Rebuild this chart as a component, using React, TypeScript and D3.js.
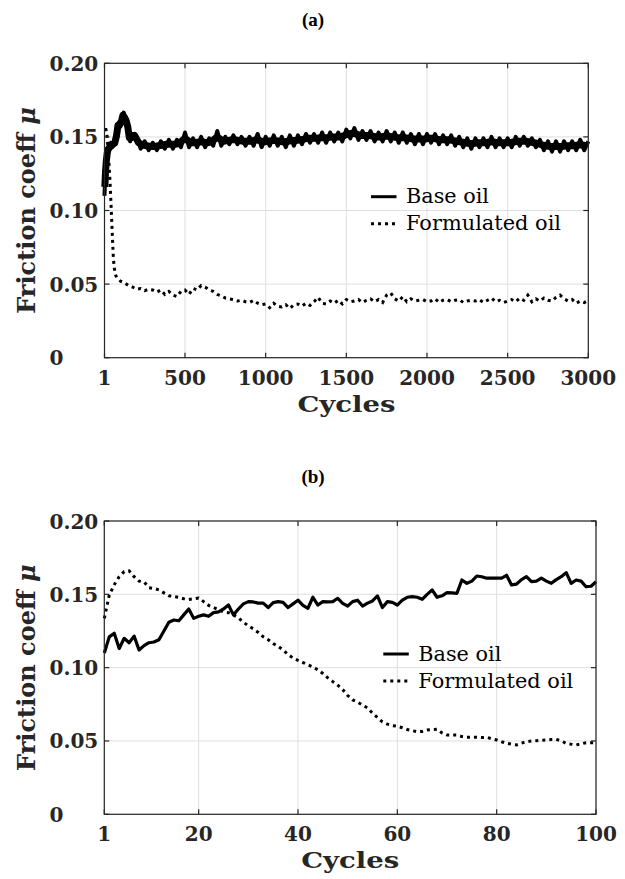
import React from "react";
import * as d3 from "d3";

// ---------- data ----------
const yTickValues = [0, 0.05, 0.1, 0.15, 0.2];
const yTickLabels = ["0", "0.05", "0.10", "0.15", "0.20"];
const xTicksA = [1, 500, 1000, 1500, 2000, 2500, 3000];
const xTicksB = [1, 20, 40, 60, 80, 100];
const seriesNames = ["Base oil", "Formulated oil"];

// Panel (a): early cycles (read individually)
const baseEarlyCyclesA = [1, 5, 10, 15, 20, 25, 30, 40, 50, 60, 70, 80, 90, 100, 110, 120, 130, 140, 150, 160, 175];
const baseEarlyA = [0.110, 0.122, 0.131, 0.137, 0.140, 0.143, 0.141, 0.146, 0.143, 0.147, 0.145, 0.156, 0.160, 0.157, 0.163, 0.1665, 0.160, 0.162, 0.152, 0.147, 0.152];
const formEarlyCyclesA = [1, 10, 15, 20, 25, 30, 35, 40, 45, 50, 55, 60, 70, 80, 100, 125, 150, 175];
const formEarlyA = [0.155, 0.155, 0.153, 0.146, 0.138, 0.130, 0.120, 0.108, 0.095, 0.082, 0.070, 0.062, 0.056, 0.054, 0.052, 0.051, 0.049, 0.048];

// Panel (a): cycles 200..3000 every 25 cycles
const lateStartA = 200;
const lateStepA = 25;
const baseLateA = [
  0.150, 0.142, 0.147, 0.141, 0.146, 0.141, 0.147, 0.142, 0.148, 0.142, 0.148, 0.143, 0.153, 0.143, 0.149, 0.143,
  0.150, 0.143, 0.149, 0.144, 0.154, 0.144, 0.150, 0.145, 0.151, 0.145, 0.150, 0.144, 0.150, 0.144, 0.152, 0.143,
  0.150, 0.144, 0.151, 0.144, 0.150, 0.143, 0.151, 0.144, 0.151, 0.145, 0.152, 0.146, 0.152, 0.146, 0.153, 0.146,
  0.153, 0.147, 0.153, 0.147, 0.155, 0.149, 0.156, 0.148, 0.154, 0.148, 0.154, 0.147, 0.153, 0.147, 0.154, 0.147,
  0.153, 0.146, 0.153, 0.146, 0.152, 0.145, 0.152, 0.145, 0.152, 0.146, 0.152, 0.145, 0.151, 0.145, 0.151, 0.144,
  0.150, 0.143, 0.149, 0.142, 0.149, 0.143, 0.149, 0.143, 0.150, 0.143, 0.149, 0.143, 0.149, 0.143, 0.150, 0.144,
  0.150, 0.144, 0.149, 0.143, 0.148, 0.141, 0.147, 0.140, 0.147, 0.140, 0.147, 0.141, 0.147, 0.141, 0.148, 0.141,
  0.147,
];
const formLateA = [
  0.0465, 0.047, 0.0455, 0.0465, 0.046, 0.0445, 0.046, 0.043, 0.045, 0.0425, 0.0415, 0.045, 0.046, 0.043, 0.047, 0.046,
  0.049, 0.048, 0.046, 0.045, 0.043, 0.042, 0.0405, 0.040, 0.0395, 0.0385, 0.039, 0.038, 0.0375, 0.039, 0.037, 0.036,
  0.0365, 0.034, 0.037, 0.035, 0.0345, 0.036, 0.0335, 0.036, 0.0365, 0.035, 0.037, 0.0355, 0.038, 0.041, 0.037, 0.0365,
  0.0385, 0.037, 0.039, 0.0365, 0.0395, 0.038, 0.0385, 0.0395, 0.0375, 0.039, 0.040, 0.038, 0.0395, 0.0375, 0.0425, 0.044,
  0.040, 0.0385, 0.0415, 0.038, 0.040, 0.0385, 0.039, 0.0395, 0.038, 0.0385, 0.040, 0.0375, 0.039, 0.0395, 0.038, 0.039,
  0.0395, 0.0375, 0.0385, 0.039, 0.0385, 0.0395, 0.0375, 0.039, 0.0405, 0.038, 0.039, 0.0375, 0.0385, 0.0395, 0.038, 0.0405,
  0.039, 0.0425, 0.038, 0.040, 0.0385, 0.0405, 0.039, 0.0385, 0.041, 0.0425, 0.040, 0.0385, 0.0395, 0.037, 0.0385, 0.0375,
  0.039,
];

// Panel (b): one value per cycle, cycles 1..100
const baseB = [
  0.110, 0.121, 0.1235, 0.113, 0.120, 0.117, 0.1215, 0.112, 0.115, 0.117,
  0.1175, 0.119, 0.125, 0.131, 0.1325, 0.132, 0.136, 0.140, 0.1336, 0.135,
  0.136, 0.135, 0.1375, 0.138, 0.140, 0.1427, 0.136, 0.140, 0.1435, 0.145,
  0.1448, 0.144, 0.144, 0.141, 0.1443, 0.145, 0.1445, 0.141, 0.1435, 0.146,
  0.1425, 0.1405, 0.148, 0.1427, 0.145, 0.1448, 0.145, 0.1473, 0.1439, 0.142,
  0.145, 0.146, 0.142, 0.144, 0.1455, 0.1489, 0.141, 0.145, 0.1445, 0.1427,
  0.146, 0.148, 0.1484, 0.148, 0.1466, 0.150, 0.153, 0.148, 0.149, 0.1511,
  0.151, 0.1507, 0.1598, 0.1575, 0.159, 0.1625, 0.162, 0.161, 0.161, 0.161,
  0.161, 0.163, 0.1564, 0.157, 0.160, 0.162, 0.1586, 0.159, 0.161, 0.159,
  0.1575, 0.160, 0.162, 0.1648, 0.1575, 0.1598, 0.159, 0.1552, 0.1555, 0.1586,
];
const formB = [
  0.1336, 0.1495, 0.1565, 0.162, 0.1655, 0.166, 0.162, 0.159, 0.1585, 0.1545,
  0.154, 0.153, 0.151, 0.149, 0.1485, 0.148, 0.147, 0.1465, 0.147, 0.1475,
  0.145, 0.1425, 0.141, 0.1395, 0.138, 0.1375, 0.136, 0.134, 0.131, 0.1285,
  0.1265, 0.124, 0.121, 0.119, 0.1165, 0.1145, 0.112, 0.109, 0.1065, 0.105,
  0.1035, 0.102, 0.1005, 0.0985, 0.096, 0.093, 0.0905, 0.088, 0.085, 0.081,
  0.078, 0.0765, 0.0745, 0.0725, 0.069, 0.066, 0.063, 0.0615, 0.0605, 0.060,
  0.059, 0.0578, 0.057, 0.0563, 0.0565, 0.0575, 0.0578, 0.058, 0.0555, 0.0541,
  0.0541, 0.054, 0.053, 0.0525, 0.0525, 0.0525, 0.0523, 0.0525, 0.0515, 0.0507,
  0.0495, 0.0484, 0.0478, 0.0473, 0.0485, 0.0495, 0.050, 0.0502, 0.0505, 0.0507,
  0.051, 0.0511, 0.050, 0.0484, 0.0478, 0.0473, 0.048, 0.0488, 0.0488, 0.0488,
];

// ---------- helpers ----------
type Pt = [number, number];
const lateCyclesA = baseLateA.map((_, i) => lateStartA + i * lateStepA);
const baseA: Pt[] = [
  ...baseEarlyCyclesA.map((c, i) => [c, baseEarlyA[i]] as Pt),
  ...lateCyclesA.map((c, i) => [c, baseLateA[i]] as Pt),
];
const formA: Pt[] = [
  ...formEarlyCyclesA.map((c, i) => [c, formEarlyA[i]] as Pt),
  ...lateCyclesA.map((c, i) => [c, formLateA[i]] as Pt),
];
const basePtsB: Pt[] = baseB.map((v, i) => [i + 1, v]);
const formPtsB: Pt[] = formB.map((v, i) => [i + 1, v]);

// running mean of neighbouring samples (body of the noisy band)
const pairMean = (pts: Pt[]): Pt[] =>
  pts.slice(1).map((d, i) => [(d[0] + pts[i][0]) / 2, (d[1] + pts[i][1]) / 2] as Pt);

const AX = "#262626";
const GRID = "#dfdfdf";
const TICKFONT = "'DejaVu Serif', serif";
const LEGFONT = "'DejaVu Serif', serif";

interface PanelProps {
  title: string;
  titleY: number;
  left: number;
  right: number;
  top: number;
  bottom: number;
  xDomain: [number, number];
  xTicks: number[];
  base: Pt[];
  form: Pt[];
  baseWidth: number;
  band: boolean;
  legX: number;
  legY: number;
}

function Panel(p: PanelProps) {
  const x = d3.scaleLinear().domain(p.xDomain).range([p.left, p.right]);
  const y = d3.scaleLinear().domain([0, 0.2]).range([p.bottom, p.top]);
  const line = d3
    .line<Pt>()
    .x((d) => x(d[0]))
    .y((d) => y(d[1]));
  const tl = 5;
  return (
    <g>
      <text
        x={313}
        y={p.titleY}
        textAnchor="middle"
        fontFamily="'Liberation Serif', serif"
        fontWeight="bold"
        fontSize={19}
        fill="#000"
      >
        {p.title}
      </text>
      {/* grid */}
      {p.xTicks.map((t) => (
        <line key={"gx" + t} x1={x(t)} x2={x(t)} y1={p.top} y2={p.bottom} stroke={GRID} strokeWidth={1} />
      ))}
      {yTickValues.map((t) => (
        <line key={"gy" + t} x1={p.left} x2={p.right} y1={y(t)} y2={y(t)} stroke={GRID} strokeWidth={1} />
      ))}
      {/* data */}
      {p.band && (
        <path d={line(pairMean(p.base)) || ""} fill="none" stroke="#000" strokeWidth={7} strokeLinejoin="round" />
      )}
      <path d={line(p.base) || ""} fill="none" stroke="#000" strokeWidth={p.baseWidth} strokeLinejoin="round" />
      <path d={line(p.form) || ""} fill="none" stroke="#000" strokeWidth={3} strokeDasharray="3 4" />
      {/* axes box */}
      <rect x={p.left} y={p.top} width={p.right - p.left} height={p.bottom - p.top} fill="none" stroke={AX} strokeWidth={1.2} />
      {p.xTicks.map((t) => (
        <g key={"tx" + t}>
          <line x1={x(t)} x2={x(t)} y1={p.bottom} y2={p.bottom - tl} stroke={AX} strokeWidth={1.2} />
          <line x1={x(t)} x2={x(t)} y1={p.top} y2={p.top + tl} stroke={AX} strokeWidth={1.2} />
          <text
            x={x(t)}
            y={p.bottom + 27}
            textAnchor="middle"
            fontFamily={TICKFONT}
            fontWeight="bold"
            fontSize={20}
            fill={AX}
          >
            {t}
          </text>
        </g>
      ))}
      {yTickValues.map((t, i) => (
        <g key={"ty" + t}>
          <line x1={p.left} x2={p.left + tl} y1={y(t)} y2={y(t)} stroke={AX} strokeWidth={1.2} />
          <line x1={p.right} x2={p.right - tl} y1={y(t)} y2={y(t)} stroke={AX} strokeWidth={1.2} />
          <text
            x={49.5}
            y={y(t) + 7.5}
            textAnchor="start"
            fontFamily={TICKFONT}
            fontWeight="bold"
            fontSize={20}
            fill={AX}
          >
            {yTickLabels[i]}
          </text>
        </g>
      ))}
      {/* axis labels */}
      <text
        x={(p.left + p.right) / 2}
        y={p.bottom + 54}
        textAnchor="middle"
        fontFamily={TICKFONT}
        fontWeight="bold"
        fontSize={23}
        textLength={98}
        lengthAdjust="spacingAndGlyphs"
        fill={AX}
      >
        Cycles
      </text>
      <text
        transform={`translate(35,${(p.top + p.bottom) / 2}) rotate(-90)`}
        textAnchor="middle"
        fontFamily={TICKFONT}
        fontWeight="bold"
        fontSize={24}
        fill={AX}
      >
        Friction coeff <tspan fontStyle="italic">μ</tspan>
      </text>
      {/* legend */}
      <line x1={p.legX} x2={p.legX + 25.5} y1={p.legY} y2={p.legY} stroke="#000" strokeWidth={3} />
      <text
        x={p.legX + 35}
        y={p.legY + 6.7}
        fontFamily={LEGFONT}
        fontSize={20}
        textLength={83}
        lengthAdjust="spacingAndGlyphs"
        fill="#000"
      >
        {seriesNames[0]}
      </text>
      <line
        x1={p.legX}
        x2={p.legX + 25.5}
        y1={p.legY + 27}
        y2={p.legY + 27}
        stroke="#000"
        strokeWidth={3}
        strokeDasharray="3 4"
      />
      <text
        x={p.legX + 35}
        y={p.legY + 33.7}
        fontFamily={LEGFONT}
        fontSize={20}
        textLength={155}
        lengthAdjust="spacingAndGlyphs"
        fill="#000"
      >
        {seriesNames[1]}
      </text>
    </g>
  );
}

export default function App() {
  return (
    <svg width={625} height={879} style={{ position: "absolute", left: 0, top: 0, background: "#fff" }}>
      <rect x={0} y={0} width={625} height={879} fill="#fff" />
      <Panel
        title="(a)"
        titleY={26}
        left={104.5}
        right={588.3}
        top={63.3}
        bottom={357.7}
        xDomain={[1, 3000]}
        xTicks={xTicksA}
        base={baseA}
        form={formA}
        baseWidth={4}
        band={true}
        legX={371}
        legY={196.7}
      />
      <Panel
        title="(b)"
        titleY={483}
        left={104.3}
        right={596}
        top={521}
        bottom={814.3}
        xDomain={[1, 100]}
        xTicks={xTicksB}
        base={basePtsB}
        form={formPtsB}
        baseWidth={3.2}
        band={false}
        legX={383.3}
        legY={654}
      />
    </svg>
  );
}
